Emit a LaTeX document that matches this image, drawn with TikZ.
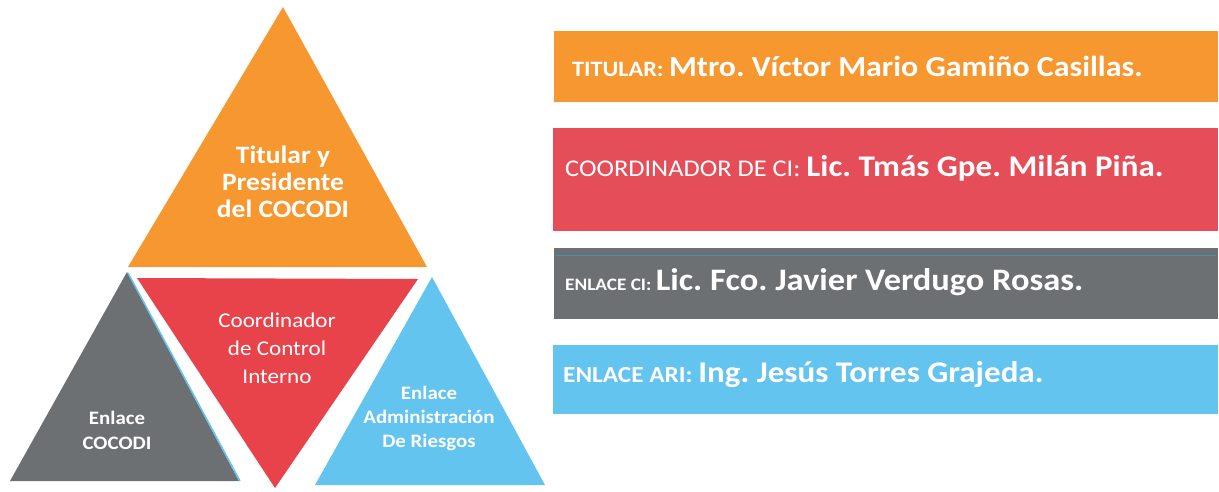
\documentclass[tikz,border=0pt]{standalone}
\usepackage{fontspec}
\setmainfont{Carlito}[FakeStretch=1.1]
\definecolor{corange}{HTML}{F6972F}
\definecolor{cred}{HTML}{E8424A}
\definecolor{credbar}{HTML}{E54E58}
\definecolor{cgrey}{HTML}{6C7072}
\definecolor{cblue}{HTML}{63C4EF}
\definecolor{cline}{HTML}{4A8FB0}
\begin{document}
\frenchspacing
\begin{tikzpicture}[x=1pt,y=-1pt,
  lbl/.style={text=white,align=center,inner sep=0pt},
  bar/.style={anchor=base west,text=white,inner sep=0pt}]
\useasboundingbox (0,0) rectangle (1219,491);
% triangles
\fill[corange] (283,7) -- (128,267) -- (427,267) -- cycle;
\fill[cgrey] (127,272) -- (10,481) -- (239,481) -- cycle;
\draw[cblue,line width=1.5pt] (128,273) -- (240,481);
\fill[cred] (137,278) -- (418,279) -- (275,488) -- cycle;
\fill[cblue] (432,277) -- (315,485) -- (545,485) -- cycle;
% triangle labels
\node[lbl,font=\bfseries\fontsize{25}{27}\selectfont] (top) at (283,182) {Titular y\\Presidente\\del COCODI};
\node[lbl,font=\fontsize{21}{28}\selectfont] (mid) at (277,348) {Coordinador\\de Control\\Interno};
\node[lbl,font=\bfseries\fontsize{19}{25}\selectfont] (left) at (117,430) {Enlace\\COCODI};
\node[lbl,font=\bfseries\fontsize{19}{24}\selectfont] (right) at (429,418) {Enlace\\Administración\\De Riesgos};
% bars
\fill[corange] (554,31) rectangle (1218,102);
\fill[credbar] (553,128) rectangle (1218,231);
\fill[cgrey] (554,248) rectangle (1218,319);
\draw[cline,line width=1pt] (556,255) -- (1216,255);
\fill[cblue] (553,345) rectangle (1218,414);
% bar labels
\node[bar] (b1) at (572,76) {\bfseries\fontsize{22}{24}\selectfont TITULAR: \fontsize{29}{30}\selectfont Mtro. Víctor Mario Gamiño Casillas.};
\node[bar] (b2) at (565,176) {\fontsize{24}{28}\selectfont COORDINADOR DE CI: \bfseries\fontsize{30}{32}\selectfont Lic. Tmás Gpe. Milán Piña.};
\node[bar] (b3) at (565,290) {\bfseries\fontsize{17.5}{22}\selectfont ENLACE CI: \fontsize{31.3}{34}\selectfont Lic. Fco. Javier Verdugo Rosas.};
\node[bar] (b4) at (563,382) {\bfseries\fontsize{23}{26}\selectfont ENLACE ARI: \fontsize{30}{32}\selectfont Ing. Jesús Torres Grajeda.};
\end{tikzpicture}
\end{document}
